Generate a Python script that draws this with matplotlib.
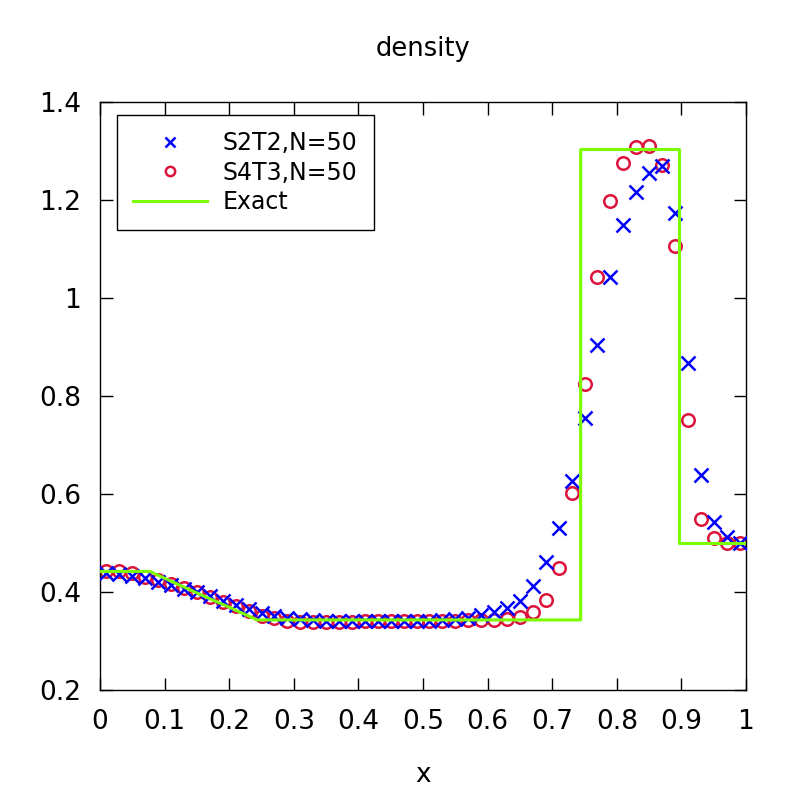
import matplotlib
matplotlib.use("Agg")
import matplotlib.pyplot as plt

# cell centres, N=50
x = [0.01, 0.03, 0.05, 0.07, 0.09, 0.11, 0.13, 0.15, 0.17, 0.19,
     0.21, 0.23, 0.25, 0.27, 0.29, 0.31, 0.33, 0.35, 0.37, 0.39,
     0.41, 0.43, 0.45, 0.47, 0.49, 0.51, 0.53, 0.55, 0.57, 0.59,
     0.61, 0.63, 0.65, 0.67, 0.69, 0.71, 0.73, 0.75, 0.77, 0.79,
     0.81, 0.83, 0.85, 0.87, 0.89, 0.91, 0.93, 0.95, 0.97, 0.99]

rho_s2t2 = [0.438, 0.436, 0.433, 0.428, 0.421, 0.414, 0.407, 0.399, 0.391, 0.382,
            0.374, 0.366, 0.358, 0.352, 0.347, 0.344, 0.342, 0.341, 0.340, 0.340,
            0.340, 0.340, 0.340, 0.340, 0.340, 0.341, 0.342, 0.344, 0.347, 0.353,
            0.360, 0.367, 0.382, 0.413, 0.461, 0.530, 0.627, 0.755, 0.905, 1.043,
            1.148, 1.217, 1.256, 1.269, 1.173, 0.867, 0.639, 0.543, 0.513, 0.501]

rho_s4t3 = [0.443, 0.443, 0.439, 0.431, 0.424, 0.416, 0.408, 0.399, 0.390, 0.380,
            0.371, 0.361, 0.352, 0.346, 0.341, 0.339, 0.338, 0.338, 0.338, 0.339,
            0.340, 0.341, 0.341, 0.341, 0.341, 0.341, 0.341, 0.341, 0.342, 0.342,
            0.343, 0.344, 0.350, 0.360, 0.384, 0.450, 0.603, 0.824, 1.042, 1.198,
            1.275, 1.309, 1.310, 1.271, 1.106, 0.752, 0.549, 0.510, 0.499, 0.499]

# exact solution
x_exact = [0.0, 0.077, 0.12, 0.16, 0.2, 0.243, 0.744, 0.744, 0.897, 0.897, 1.0]
rho_exact = [0.442, 0.442, 0.416, 0.392, 0.369, 0.343, 0.343, 1.303, 1.303, 0.499, 0.499]

xticks = [0, 0.1, 0.2, 0.3, 0.4, 0.5, 0.6, 0.7, 0.8, 0.9, 1]
xticklabels = ['0', '0.1', '0.2', '0.3', '0.4', '0.5', '0.6', '0.7', '0.8', '0.9', '1']
yticks = [0.2, 0.4, 0.6, 0.8, 1.0, 1.2, 1.4]
yticklabels = ['0.2', '0.4', '0.6', '0.8', '1', '1.2', '1.4']

plt.rcParams['font.family'] = ['DejaVu Sans']
fig = plt.figure(figsize=(8, 8), dpi=100)
ax = fig.add_axes([0.125, 0.1375, 0.8075, 0.735])

ax.plot(x, rho_s2t2, linestyle='none', marker='x', color='#0000ff',
        markersize=10, markeredgewidth=1.8, label='S2T2,N=50', zorder=3)
ax.plot(x, rho_s4t3, linestyle='none', marker='o', markerfacecolor='none',
        markeredgecolor='#dc143c', markersize=9, markeredgewidth=1.8,
        label='S4T3,N=50', zorder=2)
ax.plot(x_exact, rho_exact, color='#7cfc00', linewidth=2.2, label='Exact', zorder=4)

ax.set_xlim(0, 1)
ax.set_ylim(0.2, 1.4)
ax.set_xticks(xticks)
ax.set_xticklabels(xticklabels)
ax.set_yticks(yticks)
ax.set_yticklabels(yticklabels)
ax.tick_params(direction='in', length=9, width=1, top=True, right=True,
               labelsize=19)
ax.tick_params(axis='x', pad=14)
ax.tick_params(axis='y', pad=13.5)
for s in ax.spines.values():
    s.set_linewidth(1)

ax.set_title('density', fontsize=18.5, pad=33)
ax.set_xlabel('x', fontsize=19, labelpad=19)

leg = ax.legend(loc='upper left', bbox_to_anchor=(0.026, 0.978), fontsize=17,
                frameon=True, fancybox=False, edgecolor='black', framealpha=1,
                handlelength=3.13, handletextpad=0.64, markerscale=0.75,
                borderpad=0.7, labelspacing=0.22, borderaxespad=0)
leg.get_frame().set_linewidth(1)

fig.savefig('out.png', dpi=100)
